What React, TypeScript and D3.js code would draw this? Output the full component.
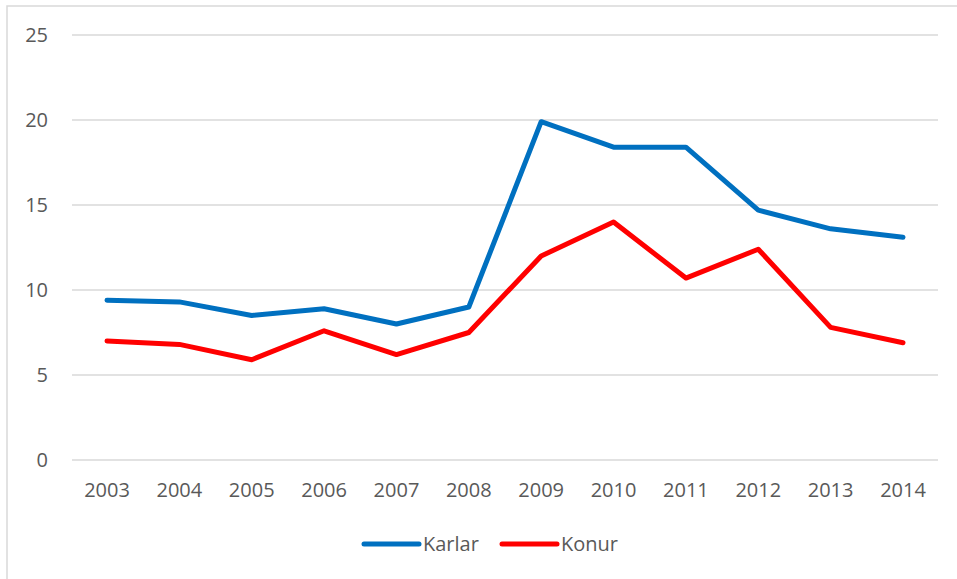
import React from "react";
import * as d3 from "d3";

const years = ["2003","2004","2005","2006","2007","2008","2009","2010","2011","2012","2013","2014"];
const karlar = [9.4, 9.3, 8.5, 8.9, 8.0, 9.0, 19.9, 18.4, 18.4, 14.7, 13.6, 13.1];
const konur = [7.0, 6.8, 5.9, 7.6, 6.2, 7.5, 12.0, 14.0, 10.7, 12.4, 7.8, 6.9];
const yTicks = [0, 5, 10, 15, 20, 25];
const seriesNames = ["Karlar", "Konur"];
const colors = ["#0070C0", "#FF0000"];

export default function App() {
  const W = 957, H = 579;
  const left = 72, right = 938, top = 35, bottom = 460;
  const x = d3.scalePoint<string>().domain(years).range([107, 903]);
  const y = d3.scaleLinear().domain([0, 25]).range([bottom, top]);
  const line = d3.line<number>().x((_, i) => x(years[i])!).y((d) => y(d));
  const font = "'Open Sans', 'Liberation Sans', sans-serif";
  const data = [karlar, konur];
  const legendX = [364, 502];
  return (
    <svg width={W} height={H} style={{ position: "absolute", left: 0, top: 0 }} fontFamily={font}>
      <rect x={0} y={0} width={W} height={H} fill="#fff" />
      <rect x={7} y={6} width={W + 10} height={H + 10} fill="none" stroke="#d9d9d9" strokeWidth={1.5} />
      {yTicks.map((t) => (
        <g key={t}>
          <line x1={left} x2={right} y1={y(t)} y2={y(t)} stroke="#d9d9d9" strokeWidth={1.3} />
          <text x={48} y={y(t)} dy="0.35em" textAnchor="end" fontSize={20} fill="#595959">{t}</text>
        </g>
      ))}
      {years.map((yr) => (
        <text key={yr} x={x(yr)} y={490} dy="0.35em" textAnchor="middle" fontSize={20} fill="#595959">{yr}</text>
      ))}
      {data.map((d, i) => (
        <path key={i} d={line(d)!} fill="none" stroke={colors[i]} strokeWidth={5} strokeLinejoin="round" strokeLinecap="round" />
      ))}
      {seriesNames.map((n, i) => (
        <g key={n}>
          <line x1={legendX[i]} x2={legendX[i] + 55} y1={544} y2={544} stroke={colors[i]} strokeWidth={5} strokeLinecap="round" />
          <text x={legendX[i] + 59} y={544} dy="0.35em" fontSize={20} fill="#595959">{n}</text>
        </g>
      ))}
    </svg>
  );
}
